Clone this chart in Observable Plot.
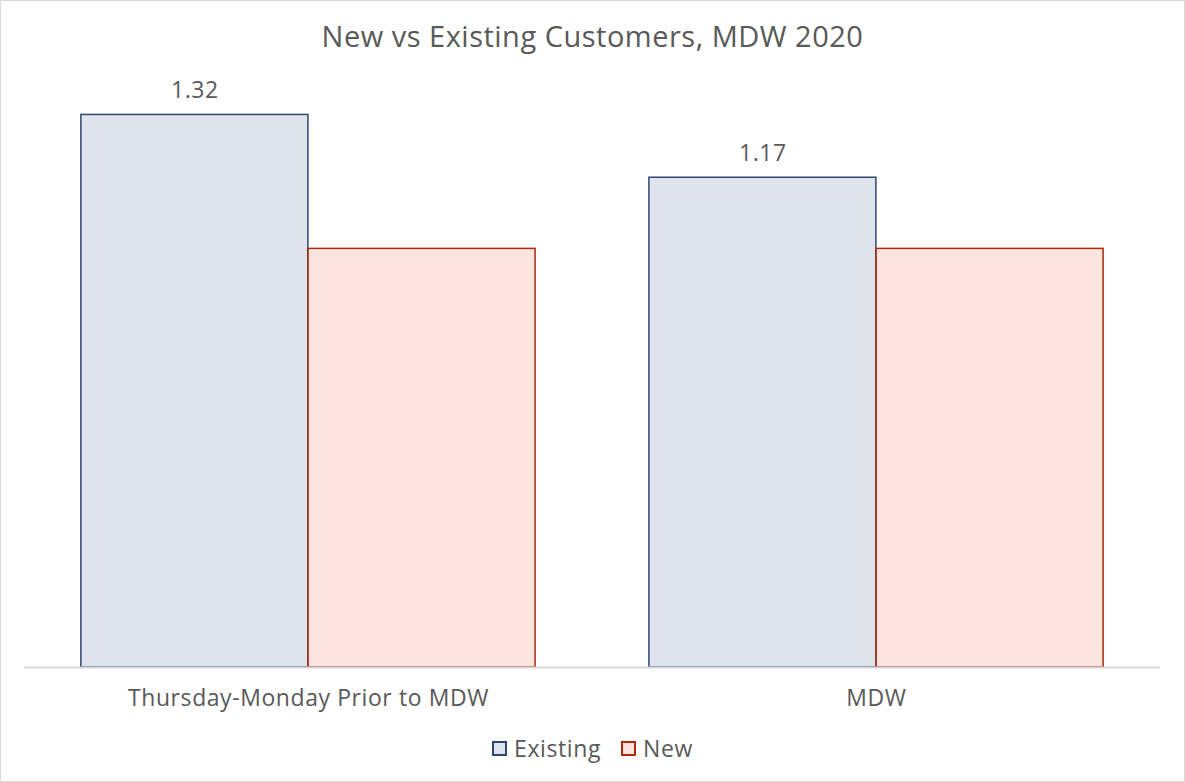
<!DOCTYPE html>
<html>
<head>
<meta charset="utf-8">
<script src="https://cdn.jsdelivr.net/npm/d3@7"></script>
<script src="https://cdn.jsdelivr.net/npm/@observablehq/plot@0.6"></script>
<style>
  html, body { margin: 0; padding: 0; background: #fff; }
  #frame {
    width: 1185px; height: 782px; box-sizing: border-box;
    border: 1px solid #D9D9D9; position: relative; overflow: hidden;
    font-family: "Open Sans", sans-serif; color: #595959;
  }
  #title {
    height: 60px; line-height: 70px; text-align: center;
    font-size: 29px; letter-spacing: 0.5px; color: #595959; margin: 0; font-weight: 400;
  }
  #legend {
    position: absolute; top: 732px; left: 0; width: 100%;
    display: flex; justify-content: center; gap: 20px;
    font-size: 23px; letter-spacing: 0.6px; color: #595959; line-height: 30px;
  }
  #legend span.item { display: inline-flex; align-items: center; gap: 7px; }
  #legend span.sw { display: inline-block; width: 11px; height: 11px; border: 2px solid; box-sizing: content-box; }
  #chart { position: absolute; top: 60px; left: 0; }
  #chart svg { font-family: "Open Sans", sans-serif; letter-spacing: 0.6px; }
</style>
</head>
<body>
<div id="frame">
  <div id="title">New vs Existing Customers, MDW 2020</div>
  <div id="chart"></div>
  <div id="legend"></div>
</div>
<script>
const categories = ["Thursday-Monday Prior to MDW", "MDW"];
const seriesNames = ["Existing", "New"];
const existingValues = [1.32, 1.17];
const newValues = [1.00, 1.00];
const fills = {Existing: "#DFE3EC", New: "#FDE4DE"};
const strokes = {Existing: "#2F4674", New: "#B0290C"};

const rows = [];
categories.forEach((c, i) => {
  rows.push({group: c, series: "Existing", value: existingValues[i]});
  rows.push({group: c, series: "New", value: newValues[i]});
});

const W = 1185, H = 660, ML = 23, MR = 24;
const step = (W - ML - MR) / 2;
const half = step * 0.8 / 2;

const chart = Plot.plot({
  width: W, height: H,
  marginLeft: ML, marginRight: MR, marginTop: 20, marginBottom: 53,
  x: {type: "band", domain: categories, paddingInner: 0.2, paddingOuter: 0.1, label: null, tickSize: 0, tickPadding: 22},
  y: {domain: [0, 1.4], axis: null},
  style: {fontSize: "23px", color: "#595959", background: "transparent"},
  marks: [
    Plot.barY(rows.filter(d => d.series === "Existing"), {
      x: "group", y: "value", fill: fills.Existing, stroke: strokes.Existing, strokeWidth: 1.5,
      insetLeft: 0, insetRight: half
    }),
    Plot.barY(rows.filter(d => d.series === "New"), {
      x: "group", y: "value", fill: fills.New, stroke: strokes.New, strokeWidth: 1.5,
      insetLeft: half, insetRight: 0
    }),
    Plot.text(rows.filter(d => d.series === "Existing"), {
      x: "group", y: "value", text: d => d.value.toFixed(2),
      dx: -half / 2, dy: -24, fill: "#595959", fontSize: 23
    }),
    Plot.ruleY([0], {stroke: "#D9D9D9", strokeWidth: 2})
  ]
});
document.getElementById("chart").appendChild(chart);

const legend = document.getElementById("legend");
seriesNames.forEach(s => {
  const item = document.createElement("span");
  item.className = "item";
  const sw = document.createElement("span");
  sw.className = "sw";
  sw.style.background = fills[s];
  sw.style.borderColor = strokes[s];
  item.appendChild(sw);
  item.appendChild(document.createTextNode(s));
  legend.appendChild(item);
});
</script>
</body>
</html>
